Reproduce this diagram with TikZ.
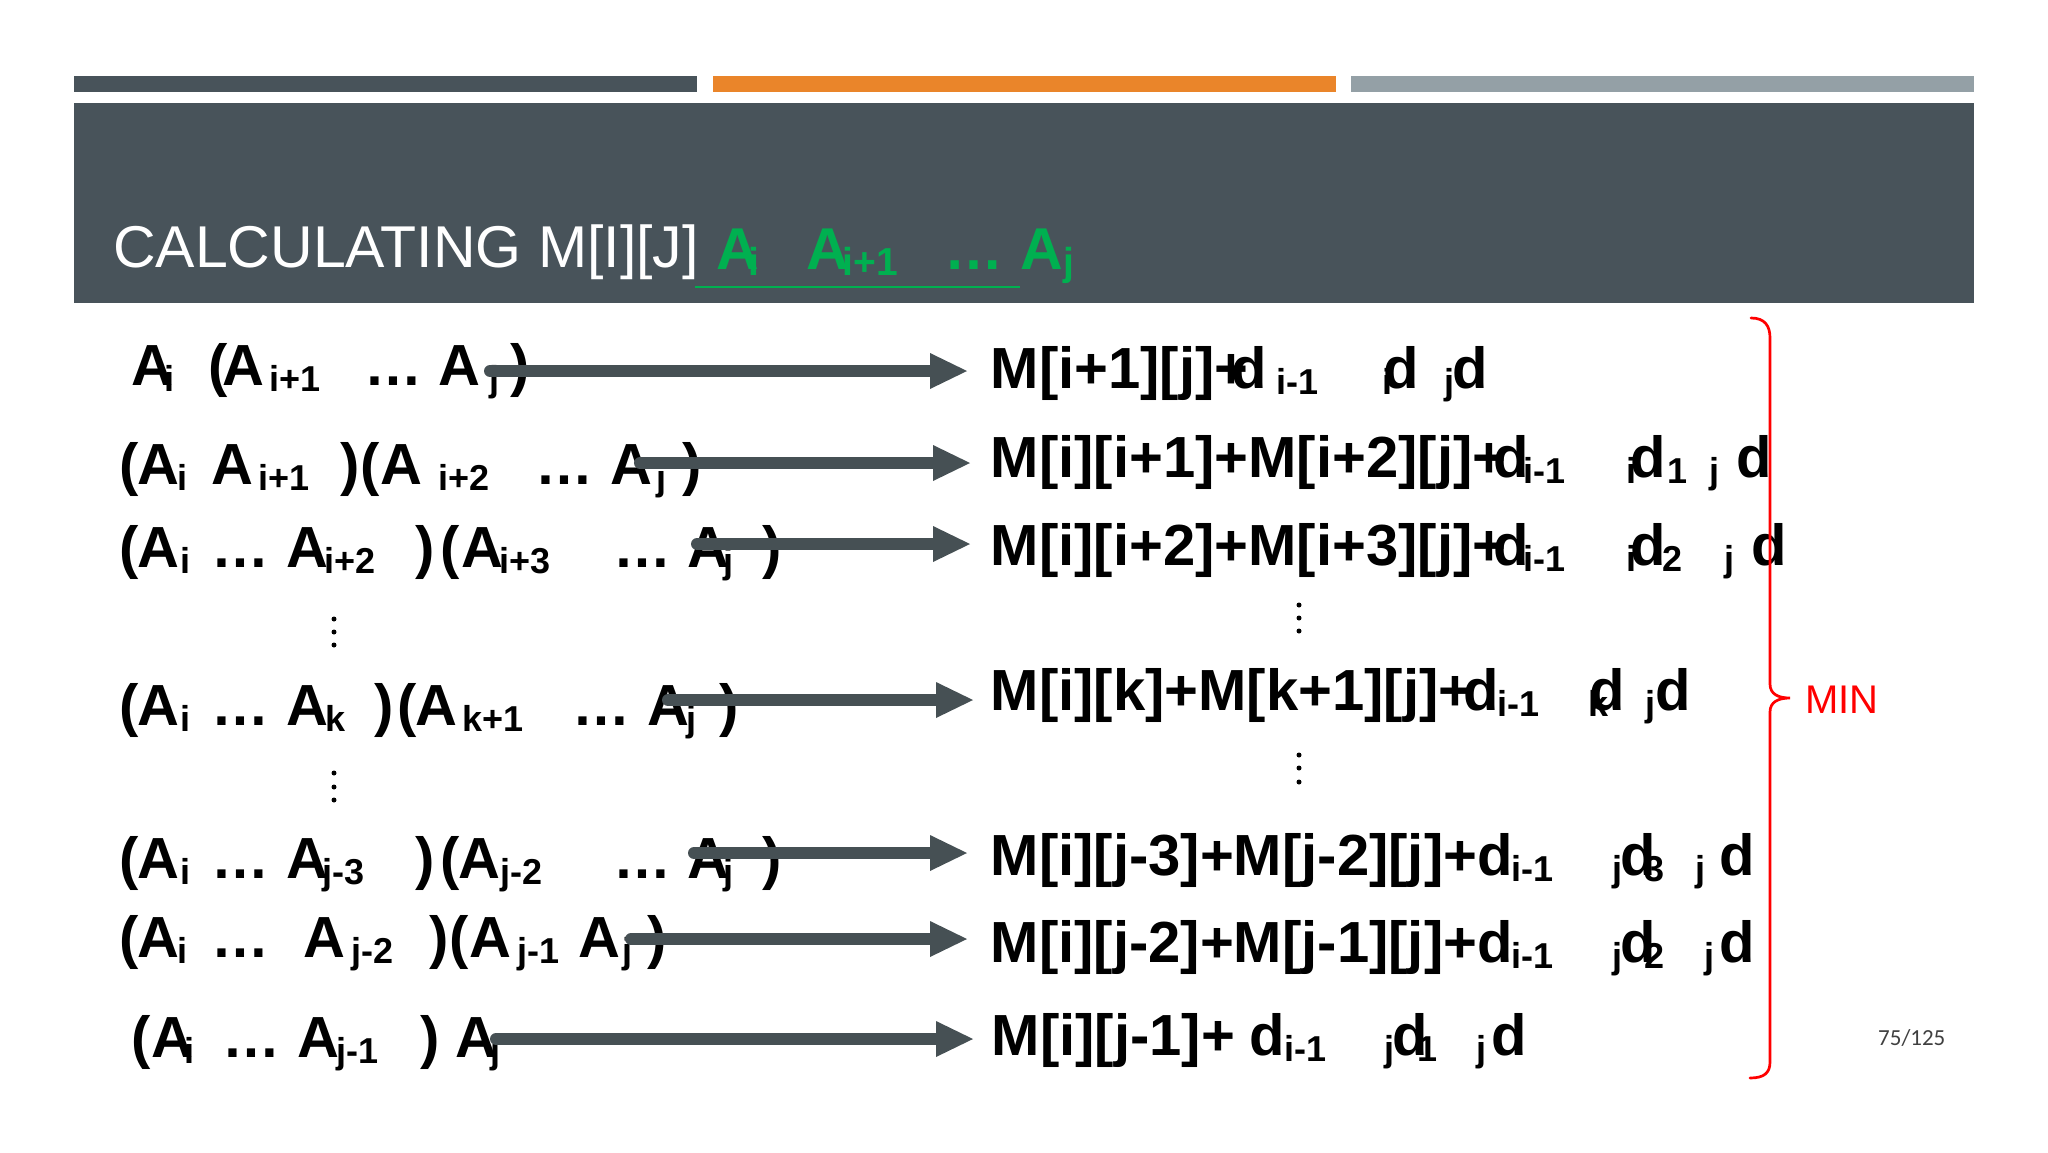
\documentclass[tikz,border=0pt]{standalone}
\usepackage{fontspec}
\setmainfont{Liberation Sans}
\newfontfamily\pagefont{Carlito}
\usetikzlibrary{arrows.meta}
\definecolor{slate}{RGB}{72,83,90}
\definecolor{orng}{RGB}{234,133,42}
\definecolor{gry}{RGB}{148,160,166}
\definecolor{grn}{RGB}{0,176,80}
\definecolor{arrcol}{RGB}{70,80,84}
\definecolor{pgcol}{RGB}{64,64,64}
\newcommand\Pc[2]{\rlap{\kern#1pt #2}}
\newcommand\Sb[2]{\rlap{\kern#1pt\raisebox{-6pt}{\fontsize{36}{36}\selectfont #2}}}
\newcommand\Sbt[2]{\rlap{\kern#1pt\raisebox{-6pt}{\fontsize{39}{39}\selectfont #2}}}
\tikzset{
  rowtxt/.style={anchor=base west, inner sep=0pt, font=\fontsize{58}{58}\selectfont\bfseries},
  bigarrow/.style={draw=arrcol, line width=12pt, line cap=round,
    -{Triangle[width=36pt,length=37pt,line width=0pt]}},
  vdot/.style={fill=black, circle, inner sep=0pt, minimum size=5pt},
}
\begin{document}
\begin{tikzpicture}[x=1pt,y=-1pt]
\fill[white] (0,0) rectangle (2048,1152);
\useasboundingbox (0,0) rectangle (2048,1152);
% top bars
\fill[slate] (74,76) rectangle (697,92);
\fill[orng] (713,76) rectangle (1336,92);
\fill[gry] (1351,76) rectangle (1974,92);
\fill[slate] (74,103) rectangle (1974,303);
% title
\node[anchor=base west, inner sep=0pt, text=white, font=\fontsize{59}{59}\selectfont] (title) at (113,267) {CALCULATING M[I][J]};
\node[rowtxt, text=grn, font=\fontsize{59}{59}\selectfont\bfseries] (gt) at (0,269)
  {\Pc{716}{A}\Sbt{748}{i}\Pc{806}{A}\Sbt{842}{i+1}\Pc{944}{…}\Pc{1020}{A}\Sbt{1063}{j}};
\draw[grn, line width=2.5pt] (695,287) -- (1020,287);
% left column
\node[rowtxt] (l1) at (0,385) {\Pc{131}{A}\Sb{164}{i}\Pc{208}{(}\Pc{222}{A}\Sb{269}{i+1}\Pc{364}{…}\Pc{438}{A}\Sb{489}{j}\Pc{510}{)}};
\node[rowtxt] (l2) at (0,484) {\Pc{119}{(}\Pc{137}{A}\Sb{177}{i}\Pc{211}{A}\Sb{258}{i+1}\Pc{340}{)}\Pc{360}{(}\Pc{380}{A}\Sb{438}{i+2}\Pc{535}{…}\Pc{610}{A}\Sb{656}{j}\Pc{682}{)}};
\node[rowtxt] (l3) at (0,567) {\Pc{119}{(}\Pc{137}{A}\Sb{180}{i}\Pc{211}{…}\Pc{286}{A}\Sb{324}{i+2}\Pc{415}{)}\Pc{440}{(}\Pc{461}{A}\Sb{499}{i+3}\Pc{613}{…}\Pc{687}{A}\Sb{723}{j}\Pc{762}{)}};
\node[rowtxt] (l4) at (0,725) {\Pc{119}{(}\Pc{137}{A}\Sb{180}{i}\Pc{211}{…}\Pc{286}{A}\Sb{325}{k}\Pc{374}{)}\Pc{397}{(}\Pc{415}{A}\Sb{462}{k+1}\Pc{572}{…}\Pc{647}{A}\Sb{686}{j}\Pc{719}{)}};
\node[rowtxt] (l5) at (0,878) {\Pc{119}{(}\Pc{137}{A}\Sb{180}{i}\Pc{211}{…}\Pc{286}{A}\Sb{322}{j-3}\Pc{415}{)}\Pc{440}{(}\Pc{458}{A}\Sb{500}{j-2}\Pc{613}{…}\Pc{687}{A}\Sb{723}{j}\Pc{762}{)}};
\node[rowtxt] (l6) at (0,957) {\Pc{119}{(}\Pc{137}{A}\Sb{177}{i}\Pc{211}{…}\Pc{303}{A}\Sb{351}{j-2}\Pc{429}{)}\Pc{449}{(}\Pc{469}{A}\Sb{517}{j-1}\Pc{578}{A}\Sb{622}{j}\Pc{647}{)}};
\node[rowtxt] (l7) at (0,1057) {\Pc{131}{(}\Pc{151}{A}\Sb{184}{i}\Pc{222}{…}\Pc{297}{A}\Sb{336}{j-1}\Pc{420}{)}\Pc{455}{A}\Sb{490}{j}};
% vertical dots
\foreach \n/\px/\py in {da/334/619, db/334/632, dc/334/645, dd/334/773, de/334/787, df/334/800,
  dg/1299/605, dh/1299/618, di/1299/631, dj/1299/755, dk/1299/768, dl/1299/782}
  \node[vdot] (\n) at (\px,\py) {};
% right column
\node[rowtxt] (r1) at (0,388) {\Pc{990}{M[i+1][j]+}\Pc{1231}{d}\Sb{1276}{i-1}\Sb{1382}{i}\Pc{1383}{d}\Sb{1444}{j}\Pc{1452}{d}};
\node[rowtxt] (r2) at (0,477) {\Pc{990}{M[i][i+1]+M[i+2][j]+}\Pc{1493}{d}\Sb{1523}{i-1}\Sb{1626}{i}\Pc{1630}{d}\Sb{1667}{1}\Sb{1709}{j}\Pc{1736}{d}};
\node[rowtxt] (r3) at (0,565) {\Pc{990}{M[i][i+2]+M[i+3][j]+}\Pc{1493}{d}\Sb{1523}{i-1}\Sb{1626}{i}\Pc{1630}{d}\Sb{1662}{2}\Sb{1724}{j}\Pc{1751}{d}};
\node[rowtxt] (r4) at (0,710) {\Pc{990}{M[i][k]+M[k+1][j]+}\Pc{1463}{d}\Sb{1497}{i-1}\Sb{1588}{k}\Pc{1589}{d}\Sb{1645}{j}\Pc{1655}{d}};
\node[rowtxt] (r5) at (0,875) {\Pc{990}{M[i][j-3]+M[j-2][j]+}\Pc{1477}{d}\Sb{1511}{i-1}\Sb{1612}{j}\Pc{1620}{d}\Sb{1644}{3}\Sb{1695}{j}\Pc{1719}{d}};
\node[rowtxt] (r6) at (0,962) {\Pc{990}{M[i][j-2]+M[j-1][j]+}\Pc{1477}{d}\Sb{1511}{i-1}\Sb{1612}{j}\Pc{1620}{d}\Sb{1644}{2}\Sb{1704}{j}\Pc{1719}{d}};
\node[rowtxt] (r7) at (0,1055) {\Pc{991}{M[i][j-1]+}\Pc{1249}{d}\Sb{1284}{i-1}\Sb{1384}{j}\Pc{1392}{d}\Sb{1417}{1}\Sb{1476}{j}\Pc{1491}{d}};
% arrows
\coordinate (s1) at (490,371); \coordinate (e1) at (967,371);
\coordinate (s2) at (640,463); \coordinate (e2) at (970,463);
\coordinate (s3) at (697,544); \coordinate (e3) at (970,544);
\coordinate (s4) at (668,700); \coordinate (e4) at (973,700);
\coordinate (s5) at (694,853); \coordinate (e5) at (967,853);
\coordinate (s6) at (631,939); \coordinate (e6) at (967,939);
\coordinate (s7) at (496,1039); \coordinate (e7) at (973,1039);
\foreach \k in {1,...,7} \draw[bigarrow] (s\k) -- (e\k);
% brace
\draw[red, line width=2.7pt, line cap=round]
  (1751,318) .. controls (1765,318) and (1770,326) .. (1770,338)
  -- (1770,684) .. controls (1770,694) and (1778,698) .. (1790,698)
  .. controls (1778,698) and (1770,702) .. (1770,712)
  -- (1770,1062) .. controls (1770,1073) and (1764,1078) .. (1750,1078);
\node[anchor=base west, inner sep=0pt, text=red, font=\fontsize{40}{40}\selectfont] (min) at (1805,713) {MIN};
\node[anchor=base west, inner sep=0pt, text=pgcol, font=\pagefont\fontsize{23}{23}\selectfont] (pg) at (1878,1045) {75/125};
\end{tikzpicture}
\end{document}
